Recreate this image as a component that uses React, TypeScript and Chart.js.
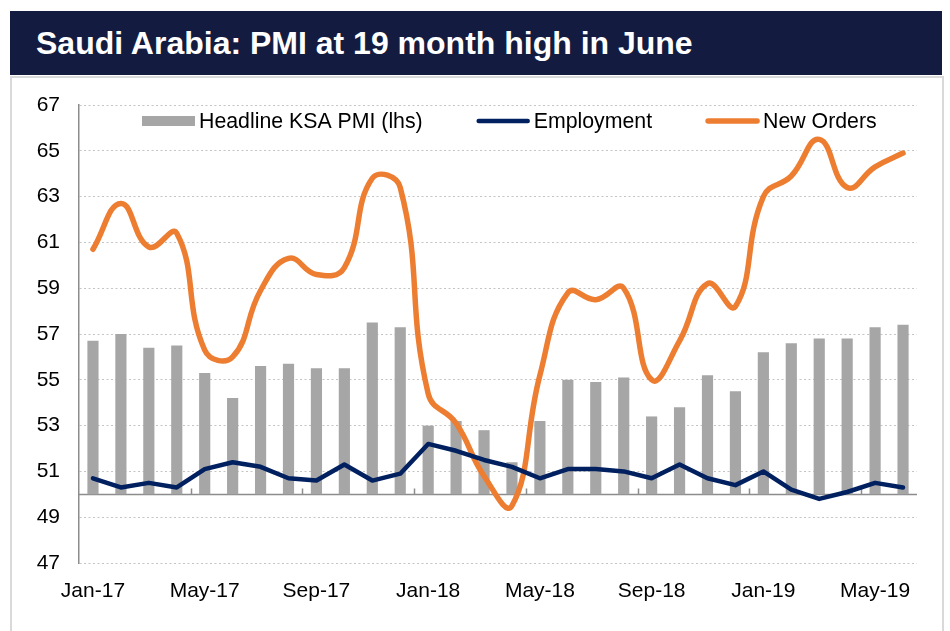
import React, { useEffect, useRef } from "react";
import { Chart, registerables } from "chart.js";

Chart.register(...registerables);

// ---- data ----
const months = [
  "Jan-17", "Feb-17", "Mar-17", "Apr-17", "May-17", "Jun-17", "Jul-17", "Aug-17", "Sep-17", "Oct-17", "Nov-17", "Dec-17",
  "Jan-18", "Feb-18", "Mar-18", "Apr-18", "May-18", "Jun-18", "Jul-18", "Aug-18", "Sep-18", "Oct-18", "Nov-18", "Dec-18",
  "Jan-19", "Feb-19", "Mar-19", "Apr-19", "May-19", "Jun-19",
];

const headlinePMI = [
  56.7, 57.0, 56.4, 56.5, 55.3, 54.2, 55.6, 55.7, 55.5, 55.5, 57.5, 57.3,
  53.0, 53.2, 52.8, 51.4, 53.2, 55.0, 54.9, 55.1, 53.4, 53.8, 55.2, 54.5,
  56.2, 56.6, 56.8, 56.8, 57.3, 57.4,
];

const employment = [
  50.7, 50.3, 50.5, 50.3, 51.1, 51.4, 51.2, 50.7, 50.6, 51.3, 50.6, 50.9,
  52.2, 51.9, 51.5, 51.2, 50.7, 51.1, 51.1, 51.0, 50.7, 51.3, 50.7, 50.4,
  51.0, 50.2, 49.8, 50.1, 50.5, 50.3,
];

const newOrders = [
  60.7, 62.7, 60.8, 61.4, 56.3, 56.0, 58.9, 60.3, 59.6, 59.9, 63.8, 63.4,
  54.4, 53.1, 50.8, 49.5, 55.2, 58.8, 58.5, 59.0, 55.0, 56.7, 59.2, 58.2,
  63.0, 63.9, 65.5, 63.4, 64.3, 64.9,
];

const PMI_BASE = 50; // bars grow from the 50 line
const Y_MIN = 47;
const Y_MAX = 67;
const Y_STEP = 2;
const LABEL_EVERY = 4;

const TITLE = "Saudi Arabia: PMI at 19 month high in June";
const SERIES_NAMES = ["Headline KSA PMI (lhs)", "Employment", "New Orders"];

const GREY = "#a6a6a6";
const NAVY = "#002060";
const ORANGE = "#ed7d31";
const FONT = 'Arial, "Liberation Sans", sans-serif';

// draws the 50 line with its tick marks
const baseLinePlugin = {
  id: "baseLine",
  beforeDatasetsDraw(chart: any) {
    const { ctx, chartArea } = chart;
    const x = chart.scales.x;
    const y = chart.scales.y;
    const py = Math.round(y.getPixelForValue(PMI_BASE)) + 0.5;
    ctx.save();
    ctx.strokeStyle = "#8c8c8c";
    ctx.lineWidth = 1.5;
    ctx.beginPath();
    ctx.moveTo(chartArea.left, py);
    ctx.lineTo(chartArea.right, py);
    for (let i = LABEL_EVERY; i < months.length; i += LABEL_EVERY) {
      const bx = Math.round((x.getPixelForValue(i - 1) + x.getPixelForValue(i)) / 2) + 0.5;
      ctx.moveTo(bx, py);
      ctx.lineTo(bx, py - 6);
    }
    ctx.stroke();
    ctx.restore();
  },
};

// legend drawn inside the plot area, at its top
const insideLegendPlugin = {
  id: "insideLegend",
  afterDraw(chart: any) {
    const { ctx, chartArea } = chart;
    const ds = chart.data.datasets;
    const order = [2, 0, 1];
    ctx.save();
    ctx.font = `21.3px ${FONT}`;
    ctx.textBaseline = "middle";
    ctx.fillStyle = "#000";
    const cy = chartArea.top + 16;
    let x = chartArea.left + 63;
    const boxW = 53;
    for (const idx of order) {
      const d = ds[idx];
      if (d.type === "bar") {
        ctx.fillStyle = d.backgroundColor;
        ctx.fillRect(x, cy - 5, boxW, 10);
      } else {
        ctx.strokeStyle = d.borderColor;
        ctx.lineWidth = d.borderWidth;
        ctx.lineCap = "round";
        ctx.beginPath();
        ctx.moveTo(x + 2, cy);
        ctx.lineTo(x + boxW - 2, cy);
        ctx.stroke();
      }
      const tx = x + boxW + 4;
      ctx.fillStyle = "#000";
      ctx.fillText(d.label, tx, cy + 1);
      x = tx + ctx.measureText(d.label).width + 54;
    }
    ctx.restore();
  },
};

function PmiChart() {
  const ref = useRef<HTMLCanvasElement | null>(null);

  useEffect(() => {
    if (!ref.current) return;
    Chart.defaults.font.family = FONT;
    const chart = new Chart(ref.current, {
      type: "bar",
      data: {
        labels: months,
        datasets: [
          {
            type: "line",
            label: SERIES_NAMES[1],
            data: employment,
            borderColor: NAVY,
            backgroundColor: NAVY,
            borderWidth: 4.5,
            pointRadius: 0,
            tension: 0,
            borderCapStyle: "round",
            borderJoinStyle: "round",
            order: 1,
          } as any,
          {
            type: "line",
            label: SERIES_NAMES[2],
            data: newOrders,
            borderColor: ORANGE,
            backgroundColor: ORANGE,
            borderWidth: 5.5,
            pointRadius: 0,
            tension: 0.45,
            borderCapStyle: "round",
            borderJoinStyle: "round",
            order: 2,
          } as any,
          {
            type: "bar",
            label: SERIES_NAMES[0],
            data: headlinePMI.map((v) => [PMI_BASE, v]),
            backgroundColor: GREY,
            barPercentage: 0.4,
            categoryPercentage: 1,
            order: 3,
          } as any,
        ],
      },
      options: {
        responsive: false,
        animation: false,
        devicePixelRatio: 1,
        layout: { padding: { left: 0, right: 25, top: 27, bottom: 0 } },
        plugins: {
          legend: { display: false },
          tooltip: { enabled: false },
          title: { display: false },
        },
        scales: {
          x: {
            offset: true,
            grid: { display: false },
            border: { display: false },
            ticks: {
              autoSkip: false,
              maxRotation: 0,
              minRotation: 0,
              padding: 8,
              color: "#000",
              font: { size: 21, family: FONT },
              callback: (_v: any, i: number) => (i % LABEL_EVERY === 0 ? months[i] : ""),
            },
            afterFit: (s: any) => {
              s.height = 68;
            },
          },
          y: {
            min: Y_MIN,
            max: Y_MAX,
            ticks: {
              stepSize: Y_STEP,
              padding: 0,
              color: "#000",
              font: { size: 21, family: FONT },
            },
            grid: {
              color: "#c4c4c4",
              lineWidth: 1,
              drawTicks: true,
              tickLength: 19,
              tickColor: "rgba(0,0,0,0)",
            },
            border: { display: true, color: "#8c8c8c", width: 1.5, dash: [2, 2.5] },
            afterFit: (s: any) => {
              s.width = 67;
            },
          },
        },
      } as any,
      plugins: [baseLinePlugin, insideLegendPlugin],
    });
    return () => chart.destroy();
  }, []);

  return (
    <canvas
      ref={ref}
      width={930}
      height={553}
      style={{ position: "absolute", left: 12, top: 78, width: 930, height: 553 }}
    />
  );
}

export default function App() {
  return (
    <div style={{ position: "absolute", left: 0, top: 0, width: 950, height: 631, overflow: "hidden", background: "#fff", fontFamily: FONT }}>
      <div
        style={{
          position: "absolute",
          left: 10,
          top: 11,
          width: 932,
          height: 64,
          background: "#131c40",
        }}
      >
        <span
          style={{
            position: "absolute",
            left: 26,
            top: 16,
            color: "#fff",
            fontWeight: "bold",
            fontSize: 32,
            lineHeight: 1,
            whiteSpace: "nowrap",
          }}
        >
          {TITLE}
        </span>
      </div>
      <div
        style={{
          position: "absolute",
          left: 10,
          top: 76,
          width: 934,
          height: 600,
          border: "2px solid #d9d9d9",
          boxSizing: "border-box",
        }}
      />
      <PmiChart />
    </div>
  );
}
